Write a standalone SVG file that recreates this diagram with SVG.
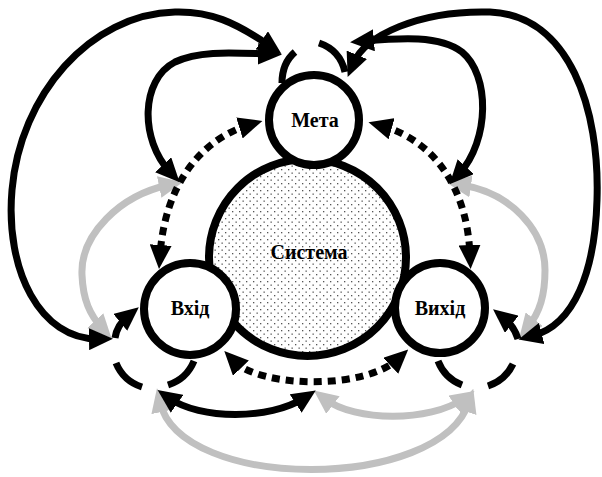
<svg xmlns="http://www.w3.org/2000/svg" width="602" height="477" viewBox="0 0 602 477">
<defs>
<style>
.k{fill:none;stroke:#000;stroke-width:7}
.g{fill:none;stroke:#c0c0c0;stroke-width:7}
.d{fill:none;stroke:#000;stroke-width:7;stroke-dasharray:8 6}
.kb{marker-start:url(#ah);marker-end:url(#ah)}
.ke{marker-end:url(#ah)}
.gb{marker-start:url(#ahg);marker-end:url(#ahg)}
.node{fill:#fff;stroke:#000;stroke-width:8}
.sys{fill:url(#dots);stroke:#000;stroke-width:8}
.t{font-family:"Liberation Serif","Times New Roman",serif;font-weight:bold;font-size:20px;text-anchor:middle;fill:#000}
</style>
<marker id="ah" viewBox="0 0 24 22" refX="10" refY="11" markerWidth="24" markerHeight="22" markerUnits="userSpaceOnUse" orient="auto-start-reverse"><path d="M0,0 L24,11 L0,22 Z" fill="#000"/></marker>
<marker id="ahg" viewBox="0 0 24 22" refX="10" refY="11" markerWidth="24" markerHeight="22" markerUnits="userSpaceOnUse" orient="auto-start-reverse"><path d="M0,0 L24,11 L0,22 Z" fill="#c0c0c0"/></marker>
<pattern id="dots" width="7" height="7" patternUnits="userSpaceOnUse"><rect width="7" height="7" fill="#fff"/><rect x="1" y="1" width="1.3" height="1.3" fill="#555"/><rect x="4.5" y="4.5" width="1.3" height="1.3" fill="#555"/></pattern>
</defs>
<g id="connectors">
<path class="g gb" d="M169,185 C120,195 80,235 82,275 C83,300 90,315 102,328"/>
<path class="g gb" d="M461,185 C510,192 545,230 545,270 C545,295 540,312 528,327"/>
<path class="g gb" d="M325,399 C355,422 430,422 463,399"/>
<path class="g gb" d="M160,402 C180,492 440,492 469,402"/>
<path class="k kb" d="M99,339 C40,340 5,270 12,190 C20,95 90,14 175,12 C210,11 235,22 270,46"/>
<path class="k kb" d="M170,172 C140,140 140,80 175,62 C200,50 235,53 268,54"/>
<path class="k kb" d="M353,64 C365,35 420,10 490,12 C570,15 600,110 597,200 C595,270 575,325 532,336"/>
<path class="k kb" d="M459,174 C490,140 490,75 462,52 C440,35 400,38 364,41"/>
<path class="k kb" d="M169,398 C200,420 270,420 304,398"/>
<path class="k ke" d="M115,338 Q117,325 128,316"/>
<path class="k ke" d="M518,339 Q514,326 504,318"/>
<path class="k" d="M116,363 A42,42 0 0 0 142,387"/>
<path class="k" d="M168,385 A42,42 0 0 0 194,361"/>
<path class="k" d="M438,361 A42,42 0 0 0 462,385"/>
<path class="k" d="M488,386 A42,42 0 0 0 513,364"/>
<path class="k" d="M295,52 Q282,63 282,83"/>
<path class="k" d="M319,43 Q340,50 345,72"/>
<path class="d kb" d="M249,125 C200,140 165,185 160,255"/>
<path class="d kb" d="M382,126 C432,140 467,185 470,255"/>
<path class="d kb" d="M234,361 C260,388 365,390 398,359"/>
</g>
<g id="system"><circle class="sys" cx="307.5" cy="257.5" r="98.5"/><text class="t" x="309" y="259">Система</text></g>
<g id="meta"><circle class="node" cx="314" cy="120" r="45"/><text class="t" x="315" y="127">Мета</text></g>
<g id="vkhid"><circle class="node" cx="190" cy="309" r="46"/><text class="t" x="190" y="315">Вхід</text></g>
<g id="vykhid"><circle class="node" cx="440" cy="308" r="45"/><text class="t" x="440" y="315">Вихід</text></g>
</svg>
